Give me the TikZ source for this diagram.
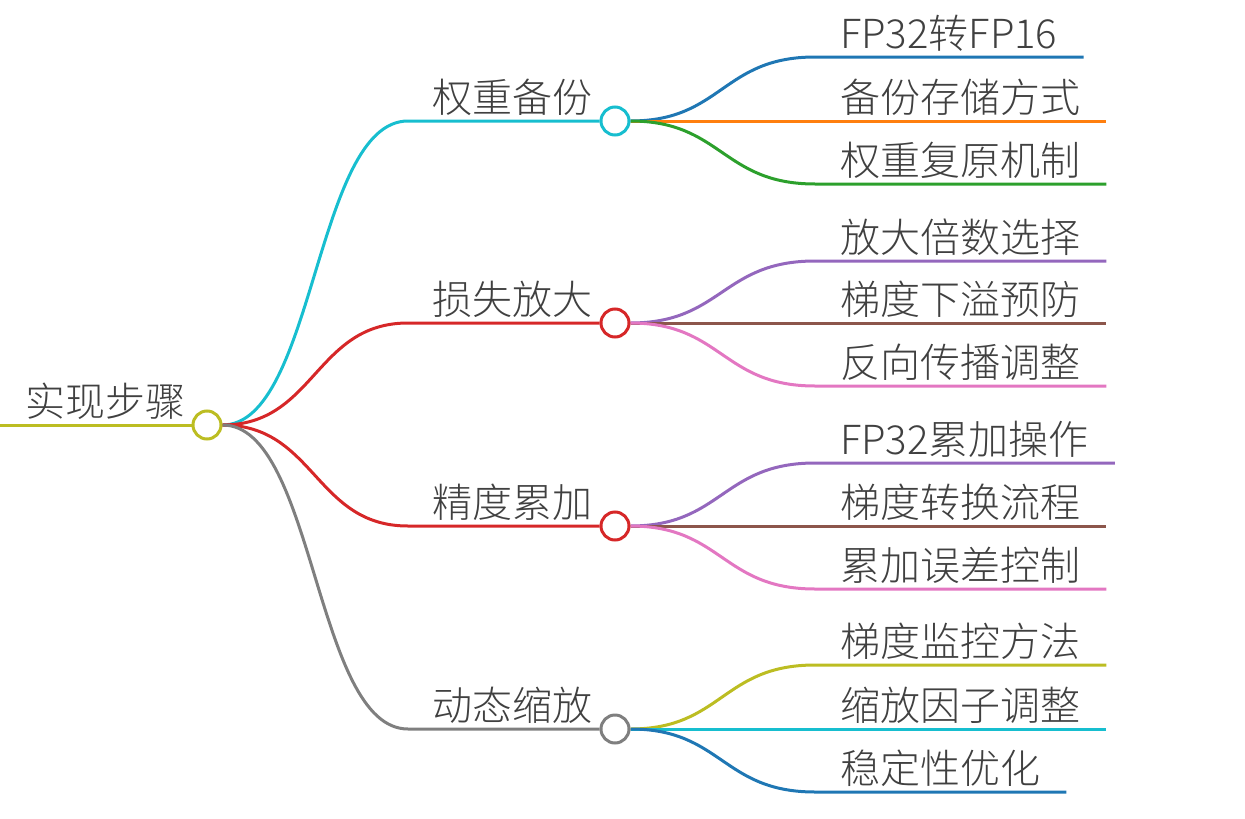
\documentclass[tikz,border=0pt]{standalone}
\usepackage{fontspec}
\usetikzlibrary{backgrounds}
\newfontfamily\cjk{Noto Sans CJK SC Light}
\definecolor{cyanc}{HTML}{17BECF}
\definecolor{redc}{HTML}{D62728}
\definecolor{grayc}{HTML}{7F7F7F}
\definecolor{olivec}{HTML}{BCBD22}
\definecolor{bluec}{HTML}{1F77B4}
\definecolor{orangec}{HTML}{FF7F0E}
\definecolor{greenc}{HTML}{2CA02C}
\definecolor{purplec}{HTML}{9467BD}
\definecolor{brownc}{HTML}{8C564B}
\definecolor{pinkc}{HTML}{E377C2}
\definecolor{txtc}{HTML}{404040}
\begin{document}
\begin{tikzpicture}[x=1pt,y=-1pt,
  edge/.style={line width=3pt},
  knot/.style={circle,draw,fill=white,line width=3pt,minimum size=28pt,inner sep=0pt},
  lbl/.style={font=\cjk\fontsize{40}{40}\selectfont,text=txtc,inner sep=0pt,anchor=base west}]
\useasboundingbox (0,0) rectangle (1245,819);
% root
\coordinate (start) at (0,425);
\node[knot,draw=olivec] (r) at (207,425) {};
\node[lbl] (rt) at (25,416) {实现步骤};
\begin{scope}[on background layer]
\draw[edge,olivec] (start) -- (r.west);
\end{scope}
% level 1
\foreach \n/\y/\col/\t in {a/121/cyanc/权重备份, b/323/redc/损失放大, c/526/redc/精度累加, d/729/grayc/动态缩放}{
  \coordinate (\n s) at (408,\y);
  \node[lbl] (\n t) at (432,\y-9) {\t};
  \node[knot,draw=\col] (\n) at (615,\y) {};
  \begin{scope}[on background layer]
  \draw[edge,\col] (r.east) .. controls (315,425) and (315,\y) .. (\n s) -- (\n.west);
  \end{scope}
}
% level 2
\foreach \p/\py/\n/\y/\col/\t in {
  a/121/a1/57/bluec/FP32转FP16,
  a/121/a2/121/orangec/备份存储方式,
  a/121/a3/184/greenc/权重复原机制,
  b/323/b1/261/purplec/放大倍数选择,
  b/323/b2/323/brownc/梯度下溢预防,
  b/323/b3/386/pinkc/反向传播调整,
  c/526/c1/463/purplec/FP32累加操作,
  c/526/c2/526/brownc/梯度转换流程,
  c/526/c3/589/pinkc/累加误差控制,
  d/729/d1/665/olivec/梯度监控方法,
  d/729/d2/729/cyanc/缩放因子调整,
  d/729/d3/792/bluec/稳定性优化}{
  \coordinate (\n s) at (815,\y);
  \node[lbl] (\n t) at (840,\y-9) {\t};
  \path (\n t.base east) ++(26,9) coordinate (\n e);
  \begin{scope}[on background layer]
  \draw[edge,\col] (\p.east) .. controls (722,\py) and (722,\y) .. (\n s) -- (\n e);
  \end{scope}
}
\end{tikzpicture}
\end{document}
